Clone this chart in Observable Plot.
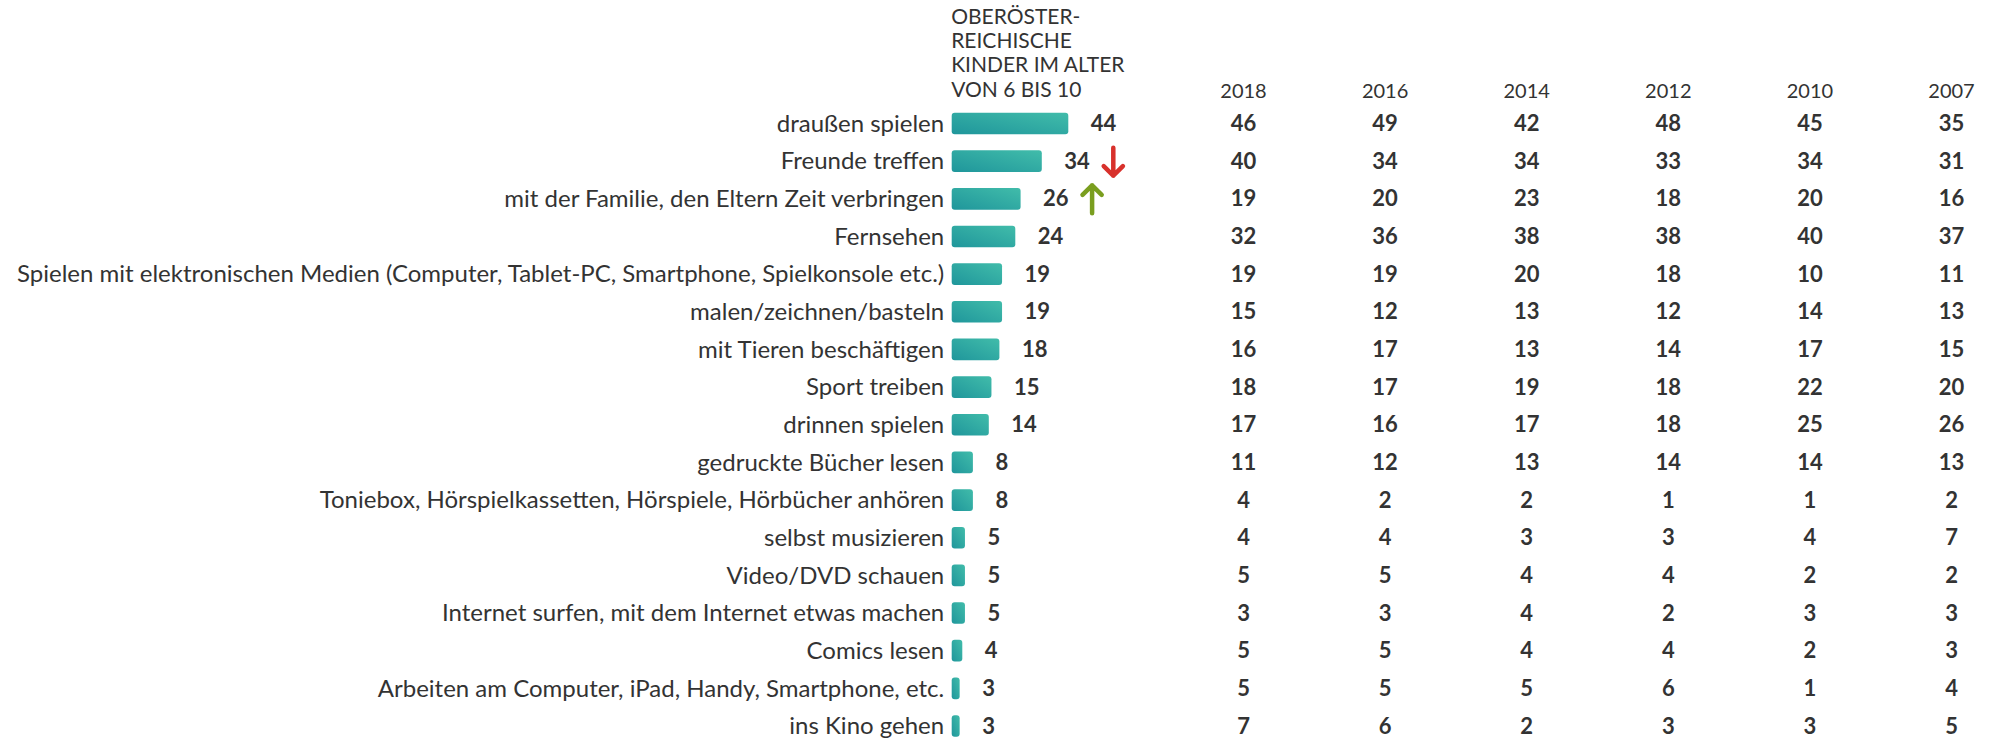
<!DOCTYPE html>
<html><head><meta charset="utf-8">
<script src="https://cdn.jsdelivr.net/npm/d3@7"></script>
<script src="https://cdn.jsdelivr.net/npm/@observablehq/plot@0.6"></script>
<style>
body{margin:0;background:#fff;}
#wrap{position:relative;width:2002px;height:739px;}
#wrap svg{position:absolute;top:0;}
</style></head><body><div id="wrap"></div>
<script>
const categories = [
  "draußen spielen",
  "Freunde treffen",
  "mit der Familie, den Eltern Zeit verbringen",
  "Fernsehen",
  "Spielen mit elektronischen Medien (Computer, Tablet-PC, Smartphone, Spielkonsole etc.)",
  "malen/zeichnen/basteln",
  "mit Tieren beschäftigen",
  "Sport treiben",
  "drinnen spielen",
  "gedruckte Bücher lesen",
  "Toniebox, Hörspielkassetten, Hörspiele, Hörbücher anhören",
  "selbst musizieren",
  "Video/DVD schauen",
  "Internet surfen, mit dem Internet etwas machen",
  "Comics lesen",
  "Arbeiten am Computer, iPad, Handy, Smartphone, etc.",
  "ins Kino gehen"
];
const current = [44, 34, 26, 24, 19, 19, 18, 15, 14, 8, 8, 5, 5, 5, 4, 3, 3];
const years = ["2018", "2016", "2014", "2012", "2010", "2007"];
const v2018 = [46, 40, 19, 32, 19, 15, 16, 18, 17, 11, 4, 4, 5, 3, 5, 5, 7];
const v2016 = [49, 34, 20, 36, 19, 12, 17, 17, 16, 12, 2, 4, 5, 3, 5, 5, 6];
const v2014 = [42, 34, 23, 38, 20, 13, 13, 19, 17, 13, 2, 3, 4, 4, 4, 5, 2];
const v2012 = [48, 33, 18, 38, 18, 12, 14, 18, 18, 14, 1, 3, 4, 2, 4, 6, 3];
const v2010 = [45, 34, 20, 40, 10, 14, 17, 22, 25, 14, 1, 4, 2, 3, 2, 1, 3];
const v2007 = [35, 31, 16, 37, 11, 13, 15, 20, 26, 13, 2, 7, 2, 3, 3, 4, 5];
const headerText = "OBERÖSTER-\nREICHISCHE\nKINDER IM ALTER\nVON 6 BIS 10";
const arrowDownCats = ["Freunde treffen"];
const arrowUpCats = ["mit der Familie, den Eltern Zeit verbringen"];

const series = [v2018, v2016, v2014, v2012, v2010, v2007];
const rows = categories.map((c, i) => ({cat: c, value: current[i]}));
const table = [];
years.forEach((yr, j) => series[j].forEach((v, i) => table.push({cat: categories[i], year: yr, value: v})));
const downArrows = rows.filter(r => arrowDownCats.includes(r.cat));
const upArrows = rows.filter(r => arrowUpCats.includes(r.cat));

const H = 739;
const W1 = 1180, W2 = 822;
const yTop = 104.7, yBottom = 744.8;
const baseStyle = () => ({fontFamily: "Lato, sans-serif", fontSize: "24px", color: "#333", background: "transparent", overflow: "visible", maxWidth: "none"});

const p1 = Plot.plot({
  width: W1, height: H,
  marginLeft: 951.7, marginRight: W1 - 1068.3, marginTop: 0, marginBottom: 0,
  style: baseStyle(),
  x: {domain: [0, d3.max(current)], axis: null},
  y: {type: "band", domain: categories, range: [yTop, yBottom], padding: 0, round: false, tickSize: 0, tickPadding: 8, label: null},
  marks: [
    Plot.barX(rows, {x: "value", y: "cat", fill: "url(#barGrad)", insetTop: 8, insetBottom: 8, rx: 3}),
    Plot.text(rows, {x: "value", y: "cat", text: d => String(d.value), textAnchor: "start", dx: 22, fontWeight: "bold", fontSize: 22, fill: "#333"}),
    Plot.vector(downArrows, {x: "value", y: "cat", rotate: 180, length: 28, r: 6, anchor: "middle", dx: 71, stroke: "#d8312c", strokeWidth: 4.5, strokeLinecap: "round", strokeLinejoin: "round"}),
    Plot.vector(upArrows, {x: "value", y: "cat", rotate: 0, length: 28, r: 6, anchor: "middle", dx: 71, stroke: "#7a9e1f", strokeWidth: 4.5, strokeLinecap: "round", strokeLinejoin: "round"}),
    Plot.text([headerText], {frameAnchor: "top-left", text: d => d, textAnchor: "start", lineAnchor: "top", dy: 6, dx: -1, lineHeight: 1.157, fontSize: 21, fill: "#333"})
  ]
});
d3.select(p1).insert("defs", ":first-child").html(
  '<linearGradient id="barGrad" x1="0" y1="1" x2="1" y2="0">' +
  '<stop offset="0" stop-color="#1f969b"/><stop offset="1" stop-color="#41bcaa"/></linearGradient>'
);

const p2 = Plot.plot({
  width: W2, height: H,
  marginLeft: 1243 - W1, marginRight: 2002 - 1951, marginTop: 0, marginBottom: 0,
  style: baseStyle(),
  x: {domain: years, type: "point", padding: 0, round: false, axis: null},
  y: {type: "band", domain: categories, range: [yTop, yBottom], padding: 0, round: false, axis: null},
  marks: [
    Plot.text(years, {x: d => d, frameAnchor: "top", dy: 83, text: d => d, fontSize: 20, fill: "#333"}),
    Plot.text(table, {x: "year", y: "cat", text: d => String(d.value), fontWeight: "bold", fontSize: 22, fill: "#333"})
  ]
});

p1.style.left = "0px";
p2.style.left = W1 + "px";
document.getElementById("wrap").append(p1, p2);
</script>
</body></html>
